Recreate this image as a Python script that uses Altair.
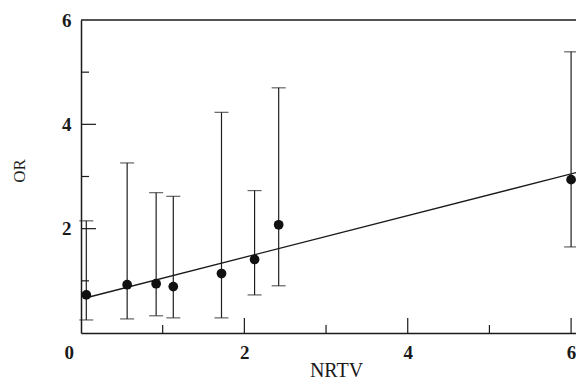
import altair as alt
import pandas as pd

# Data
nrtv = [0.065, 0.565, 0.92, 1.13, 1.72, 2.125, 2.42, 6.0]
odds = [0.73, 0.925, 0.945, 0.89, 1.14, 1.41, 2.075, 2.94]
ci_lo = [0.25, 0.27, 0.33, 0.29, 0.29, 0.73, 0.905, 1.65]
ci_hi = [2.15, 3.26, 2.69, 2.62, 4.23, 2.73, 4.70, 5.39]
fit_x = [0.1, 6.1]
fit_y = [0.69, 3.09]
x_major = [2, 4, 6]
x_minor = [1, 3, 5]
y_major = [2, 4]
y_minor = [1, 3, 5]
x_labels = [0, 2, 4, 6]
y_labels = [2, 4, 6]

W, H = 495, 313
XMAX = 6.06
INK = "#1a1a1a"
BAR = "#1f1f1f"
FONT = "Liberation Serif"

pts = pd.DataFrame({"x": nrtv, "y": odds, "lo": ci_lo, "hi": ci_hi})
fit = pd.DataFrame({"x": fit_x, "y": fit_y})

xs = alt.Scale(domain=[0, XMAX], nice=False, zero=False)
ys = alt.Scale(domain=[0, 6], nice=False, zero=False)

# the same axis definitions are given to every layer so that they merge
x_axis = alt.Axis(
    values=x_labels, title="NRTV", labelPadding=10,
    labelOffset=alt.condition("datum.value == 0", alt.value(-17), alt.value(0)),
    titleX=255, titleY=43, titleBaseline="alphabetic",
)
y_axis = alt.Axis(
    values=y_labels, title="OR", labelPadding=10,
    titleX=-62, titleY=H / 2 - 6, titleBaseline="middle", titleAngle=270,
)

def X(field):
    return alt.X(field, type="quantitative", scale=xs, axis=x_axis)

def Y(field):
    return alt.Y(field, type="quantitative", scale=ys, axis=y_axis)

dots = alt.Chart(pts).mark_circle(color="#111111", opacity=1, size=95).encode(
    x=X("x"), y=Y("y"),
)
bars = alt.Chart(pts).mark_rule(color=BAR, strokeWidth=1.2).encode(
    x=X("x"), y=Y("lo"), y2="hi:Q",
)
cap_hi = alt.Chart(pts).mark_tick(orient="horizontal", size=14, thickness=1.2, color=BAR).encode(
    x=X("x"), y=Y("hi"),
)
cap_lo = alt.Chart(pts).mark_tick(orient="horizontal", size=14, thickness=1.2, color=BAR).encode(
    x=X("x"), y=Y("lo"),
)
line = alt.Chart(fit).mark_line(color=INK, strokeWidth=1.4, clip=True).encode(
    x=X("x"), y=Y("y"),
)

def xticks(vals, length):
    return alt.Chart(pd.DataFrame({"v": vals})).mark_rule(color=INK, strokeWidth=1.2).encode(
        x=X("v"), y=alt.value(H), y2=alt.value(H - length),
    )

def yticks(vals, length):
    return alt.Chart(pd.DataFrame({"v": vals})).mark_rule(color=INK, strokeWidth=1.2).encode(
        y=Y("v"), x=alt.value(0), x2=alt.value(length),
    )

top = alt.Chart(pd.DataFrame({"v": [6]})).mark_rule(color=INK, strokeWidth=1.5).encode(
    y=Y("v"), x=alt.value(0), x2=alt.value(W),
)

chart = alt.layer(
    bars, cap_hi, cap_lo, line, dots,
    xticks(x_major, 15), xticks(x_minor, 8),
    yticks(y_major, 15), yticks(y_minor, 8), top,
).properties(
    width=W, height=H,
    autosize=alt.AutoSizeParams(type="none"),
    padding={"left": 73, "top": 12, "right": 0, "bottom": 48},
).configure_view(
    stroke=None
).configure_axis(
    grid=False, ticks=False, domainColor=INK, domainWidth=1.5,
    labelFont=FONT, labelFontWeight="bold", labelFontSize=19, labelColor=INK,
    titleFont=FONT, titleFontWeight="normal", titleColor=INK,
).configure_axisX(titleFontSize=20).configure_axisY(titleFontSize=17)

chart.save("out.html", embed_options={"renderer": "svg", "actions": False})
